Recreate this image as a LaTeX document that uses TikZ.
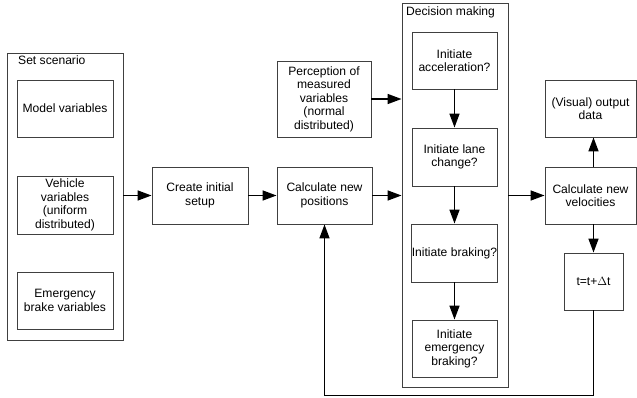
\documentclass[tikz,border=0pt]{standalone}
\usepackage{fontspec}
\setmainfont{Liberation Sans}
\usetikzlibrary{arrows.meta,calc}
\begin{document}
\begin{tikzpicture}[x=1pt,y=-1pt,
  box/.style={draw=black!75,line width=0.9pt,rectangle,align=center,inner xsep=0pt,inner ysep=1pt,
    font=\fontsize{12.1}{13.5}\selectfont},
  grp/.style={draw=black!75,line width=0.9pt,rectangle,inner sep=0pt},
  lbl/.style={anchor=north west,inner sep=0pt,font=\fontsize{12.1}{13.5}\selectfont},
  arr/.style={line width=1.6pt,-{Triangle[length=14pt,width=10pt]}},
  ln/.style={line width=1.6pt}]
\useasboundingbox (0,0) rectangle (637,398);
% Set scenario group
\node[grp,minimum width=116,minimum height=287] (scen) at (65,196.5) {};
\node[lbl] (scenl) at (18,56) {Set scenario};
\node[box,minimum width=96,minimum height=57] (model) at (65,108.5) {Model variables};
\node[box,minimum width=96,minimum height=58] (veh) at (65,205) {Vehicle\\variables\\(uniform\\distributed)};
\node[box,minimum width=96,minimum height=57] (ebv) at (65,300.5) {Emergency\\brake variables};
% middle
\node[box,minimum width=96,minimum height=57] (create) at (200,195.5) {Create initial\\setup};
\node[box,minimum width=95,minimum height=57] (calcpos) at (324.5,195.5) {Calculate new\\positions};
\node[box,minimum width=94,minimum height=76] (percep) at (324,99) {Perception of\\measured\\variables\\(normal\\distributed)};
% Decision making group
\node[grp,minimum width=106,minimum height=384] (dec) at (455,195) {};
\node[lbl] (decl) at (406,7) {Decision making};
\node[box,minimum width=85,minimum height=57] (accel) at (454.5,60.5) {Initiate\\acceleration?};
\node[box,minimum width=85,minimum height=58] (lane) at (454.5,157) {Initiate lane\\change?};
\node[box,minimum width=85,minimum height=58] (brake) at (454.5,253) {Initiate braking?};
\node[box,minimum width=85,minimum height=57] (emerg) at (454.5,348.5) {Initiate\\emergency\\braking?};
% right
\node[box,minimum width=91,minimum height=57] (output) at (590.5,108.5) {(Visual) output\\data};
\node[box,minimum width=91,minimum height=57] (calcvel) at (590.5,195.5) {Calculate new\\velocities};
\node[box,minimum width=59,minimum height=57] (tbox) at (593.5,281.5) {t=t+$\Delta$t};
\coordinate (corner) at (593.5,395.5);
% connectors
\draw[arr] (scen.east |- create.west) -- (create.west);
\draw[arr] (create.east) -- (calcpos.west);
\draw[arr] (calcpos.east) -- (calcpos.east -| dec.west);
\draw[arr] (percep.east) -- (percep.east -| dec.west);
\draw[arr] (accel) -- (lane);
\draw[arr] (lane) -- (brake);
\draw[arr] (brake) -- (emerg);
\draw[arr] (dec.east |- calcvel.west) -- (calcvel.west);
\draw[arr] (calcvel.north -| tbox) -- (output.south -| tbox);
\draw[arr] (calcvel.south -| tbox) -- (tbox.north);
\draw[arr] (tbox.south) -- (corner) -| (calcpos.south);
\end{tikzpicture}
\end{document}
